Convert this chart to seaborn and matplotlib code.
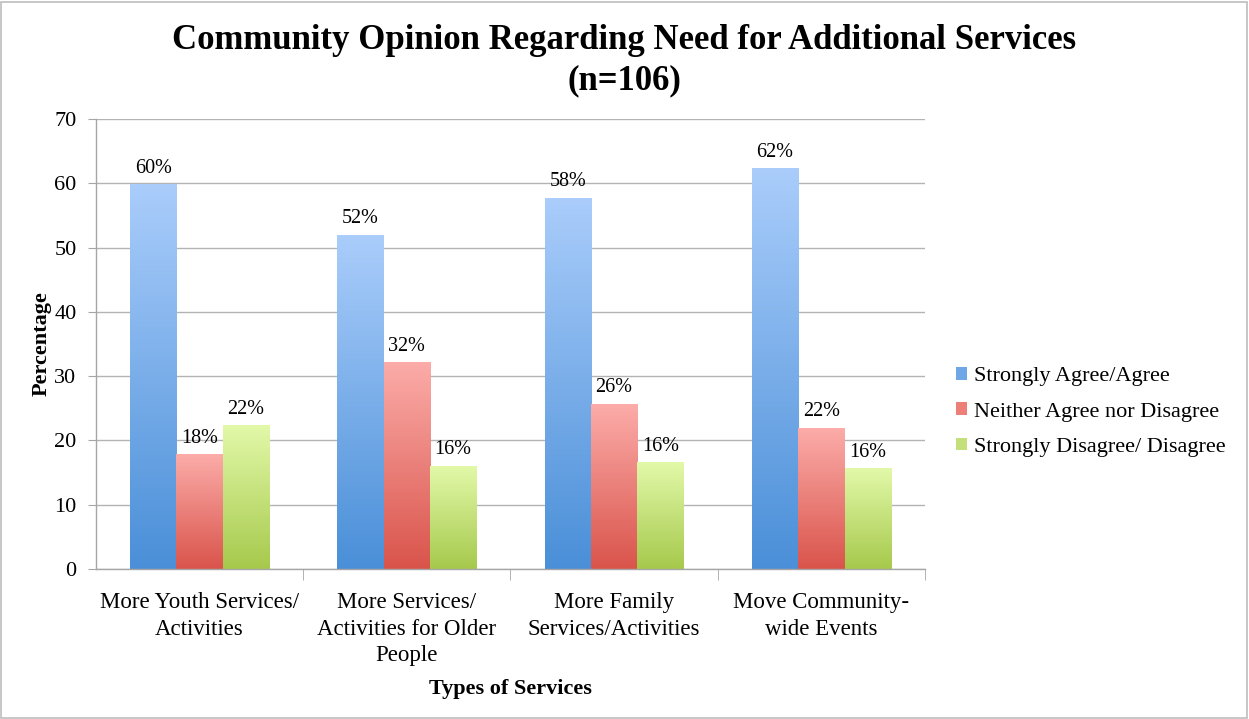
import numpy as np
import pandas as pd
import matplotlib
matplotlib.use("Agg")
import matplotlib.pyplot as plt
from matplotlib.colors import to_rgb
from matplotlib.patches import Patch, Rectangle
from matplotlib.ticker import FixedLocator
import seaborn as sns

# Survey results (percent of respondents)
services = [
    "More Youth Services/\nActivities",
    "More Services/\nActivities for Older\nPeople",
    "More Family\nServices/Activities",
    "Move Community-\nwide Events",
]
opinions = [
    "Strongly Agree/Agree",
    "Neither Agree nor Disagree",
    "Strongly Disagree/ Disagree",
]
agree = [59.8, 51.9, 57.7, 62.3]
neutral = [17.8, 32.1, 25.6, 21.9]
disagree = [22.3, 16.0, 16.5, 15.6]
y_ticks = [0, 10, 20, 30, 40, 50, 60, 70]

# Top / bottom colours of the vertical bar gradients
grad_top = ["#aacdfb", "#fcaca9", "#e2f9a9"]
grad_bottom = ["#4a8fd8", "#d9544b", "#a6c94c"]
legend_colors = ["#6fa6e6", "#ec7f78", "#c4e07a"]

df = pd.DataFrame({
    "service": np.repeat(services, 3),
    "opinion": opinions * len(services),
    "pct": np.ravel(np.column_stack([agree, neutral, disagree])),
})

sns.set_style("white")
plt.rcParams["font.family"] = ["Liberation Serif", "DejaVu Serif"]
plt.rcParams["text.color"] = "black"
plt.rcParams["axes.labelcolor"] = "black"
plt.rcParams["xtick.color"] = "black"
plt.rcParams["ytick.color"] = "black"

fig = plt.figure(figsize=(12.49, 7.19), dpi=100)
ax = fig.add_axes([96 / 1249, 150 / 719, 829 / 1249, 450 / 719])

sns.barplot(data=df, x="service", y="pct", hue="opinion", order=services,
            hue_order=opinions, palette=legend_colors, width=0.67,
            legend=False, ax=ax)

xlim = (-0.5, len(services) - 0.5)

# Replace flat fills with vertical gradients
for k, cont in enumerate(ax.containers):
    c0 = np.array(to_rgb(grad_top[k]))
    c1 = np.array(to_rgb(grad_bottom[k]))
    t = np.linspace(0, 1, 256)[:, None]
    img = (c0 * (1 - t) + c1 * t)[:, None, :]
    for bar in cont:
        x0, w, h = bar.get_x(), bar.get_width(), bar.get_height()
        bar.set_facecolor("none")
        bar.set_edgecolor("none")
        ax.imshow(img, extent=[x0, x0 + w, 0, h], aspect="auto",
                  origin="upper", zorder=2, interpolation="bilinear")
    ax.bar_label(cont, labels=[f"{b.get_height():.0f}%" for b in cont],
                 padding=5, fontsize=14.5)

ax.set_xlim(*xlim)
ax.set_ylim(0, 70)

# Grid and axes styling
ax.set_yticks(y_ticks)
ax.yaxis.grid(True, color="#b3b3b3", linewidth=1.0, zorder=0)
ax.set_axisbelow(True)
for s in ["top", "right"]:
    ax.spines[s].set_visible(False)
for s in ["left", "bottom"]:
    ax.spines[s].set_color("#a6a6a6")
    ax.spines[s].set_linewidth(1.0)
ax.tick_params(axis="y", which="major", left=True, length=6, color="#a6a6a6",
               labelsize=16, pad=8)
ax.tick_params(axis="x", which="major", bottom=False, labelsize=16.5, pad=13)
ax.xaxis.set_minor_locator(FixedLocator([0.5, 1.5, 2.5, 3.5]))
ax.tick_params(axis="x", which="minor", bottom=True, length=8, color="#a6a6a6")
for lab in ax.get_xticklabels():
    lab.set_linespacing(1.36)

ax.set_xlabel("Types of Services", fontsize=16, fontweight="bold", labelpad=9)
ax.set_ylabel("Percentage", fontsize=16, fontweight="bold", labelpad=2)

fig.text(0.5, 1 - 24 / 719,
         "Community Opinion Regarding Need for Additional Services\n(n=106)",
         ha="center", va="top", fontsize=25, fontweight="bold", linespacing=1.3)

handles = [Patch(facecolor=c, edgecolor="none") for c in legend_colors]
fig.legend(handles, opinions, loc="center left",
           bbox_to_anchor=(936 / 1249, 1 - 412 / 719), frameon=False,
           fontsize=16, handlelength=0.5, handleheight=0.5, handletextpad=0.3,
           labelspacing=0.72)

# Thin frame around the whole figure
fig.patches.append(Rectangle((0.001, 0.002), 0.997, 0.995,
                             transform=fig.transFigure, fill=False,
                             edgecolor="#bdbdbd", linewidth=1.2))

fig.savefig("out.png", dpi=100)
